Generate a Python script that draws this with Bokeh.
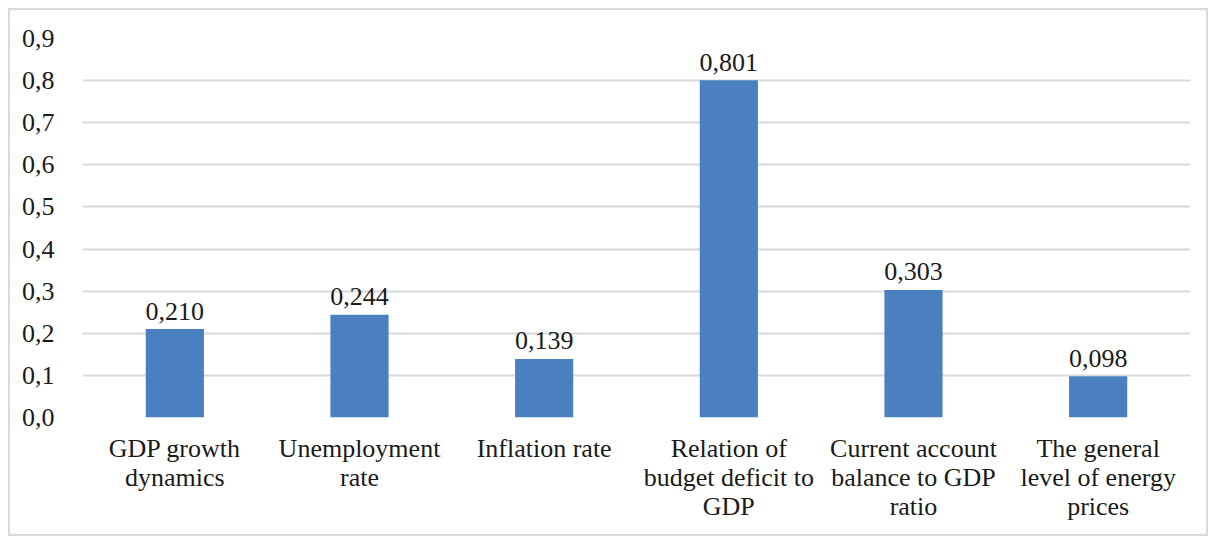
from bokeh.plotting import figure
from bokeh.models import ColumnDataSource, FixedTicker, CustomJSTickFormatter, Range1d, FactorRange
from bokeh.embed import file_html
from bokeh.resources import INLINE

categories = ["GDP growth\ndynamics", "Unemployment\nrate", "Inflation rate",
              "Relation of\nbudget deficit to\nGDP", "Current account\nbalance to GDP\nratio",
              "The general\nlevel of energy\nprices"]
values = [0.210, 0.244, 0.139, 0.801, 0.303, 0.098]
value_labels = ["0,210", "0,244", "0,139", "0,801", "0,303", "0,098"]
y_ticks = [0.0, 0.1, 0.2, 0.3, 0.4, 0.5, 0.6, 0.7, 0.8, 0.9]

FONT = "Liberation Serif"

src = ColumnDataSource(dict(cat=categories, val=values, lab=value_labels))

p = figure(width=1200, height=528, output_backend="svg", toolbar_location=None,
           x_range=FactorRange(*categories, range_padding=0), y_range=Range1d(0, 0.9),
           min_border_left=72, min_border_right=20, min_border_top=28, min_border_bottom=121)
p.styles = {"border": "2px solid #d9d9d9", "box-sizing": "border-box", "margin": "8px"}
p.outline_line_color = None

p.vbar(x="cat", top="val", width=0.315, source=src, fill_color="#4A7FC0", line_color=None)
p.text(x="cat", y="val", text="lab", source=src, text_align="center", text_baseline="alphabetic",
       y_offset=-18, text_font_size="26px", text_color="#1a1a1a", text_font=FONT)

p.xgrid.grid_line_color = None
p.ygrid.grid_line_color = "#d9d9d9"
p.ygrid.grid_line_width = 2
p.yaxis.ticker = FixedTicker(ticks=y_ticks)
p.yaxis.formatter = CustomJSTickFormatter(code="return tick.toFixed(1).replace('.', ',');")
for ax in (p.xaxis, p.yaxis):
    ax.axis_line_color = None
    ax.major_tick_line_color = None
    ax.minor_tick_line_color = None
    ax.major_label_text_font = FONT
    ax.major_label_text_font_size = "26px"
    ax.major_label_text_color = "#1a1a1a"
p.xaxis.major_label_text_line_height = 1.0
p.yaxis.major_label_standoff = 22
p.xaxis.major_label_standoff = 10

open("out.html", "w").write(file_html(p, INLINE))
